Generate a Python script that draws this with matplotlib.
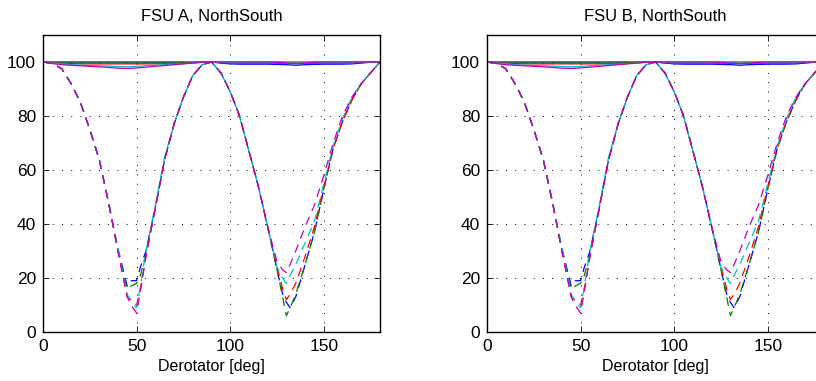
import matplotlib
matplotlib.use('Agg')
import matplotlib.pyplot as plt

plt.rcParams['font.family'] = ['Liberation Sans', 'DejaVu Sans']

# derotator angles (deg)
deg_solid = [0, 5, 10, 15, 20, 25, 30, 35, 40, 45, 50, 55, 60, 65, 70, 75, 80, 85, 90,
             95, 100, 105, 110, 115, 120, 125, 130, 135, 140, 145, 150, 155, 160, 165, 170, 175, 180]
deg_dash = [0, 5, 10, 15, 20, 25, 30, 35, 40, 45, 47, 50, 52, 55, 60, 65, 70, 75, 80, 85, 90,
            95, 100, 105, 110, 115, 120, 125, 128, 130, 132, 135, 140, 145, 150, 155, 160, 165, 170, 175, 180]

# solid curves (close to 100 %)
solid_b = [100, 100, 100, 100, 100, 100, 100, 100, 100, 100, 100, 100, 100, 100, 100, 100, 100, 100, 100,
           99.6, 99.3, 99.2, 99.2, 99.2, 99.2, 99.1, 99.0, 98.8, 99.0, 99.1, 99.2, 99.2, 99.2, 99.3, 99.6, 99.9, 100]
solid_g = [100, 99.7, 99.6, 99.6, 99.6, 99.6, 99.6, 99.6, 99.6, 99.6, 99.6, 99.6, 99.6, 99.6, 99.6, 99.7, 99.8, 99.9, 100,
           99.7, 99.5, 99.5, 99.5, 99.5, 99.5, 99.5, 99.5, 99.4, 99.5, 99.5, 99.5, 99.5, 99.5, 99.6, 99.8, 99.9, 100]
solid_r = [100, 99.7, 99.5, 99.4, 99.3, 99.3, 99.3, 99.3, 99.3, 99.3, 99.3, 99.3, 99.3, 99.3, 99.4, 99.5, 99.7, 99.9, 100,
           100, 100, 100, 100, 100, 100, 100, 100, 100, 100, 100, 100, 100, 100, 100, 100, 100, 100]
solid_c = [100, 99.6, 99.3, 99.0, 98.8, 98.7, 98.6, 98.5, 98.3, 98.2, 98.4, 98.6, 98.8, 99.0, 99.2, 99.4, 99.7, 99.9, 100,
           99.9, 99.8, 99.8, 99.8, 99.8, 99.8, 99.8, 99.7, 99.6, 99.7, 99.8, 99.8, 99.8, 99.8, 99.8, 99.9, 100, 100]
solid_m = [100, 99.4, 99.0, 98.8, 98.6, 98.4, 98.2, 98.0, 97.7, 97.6, 97.8, 98.1, 98.4, 98.7, 99.0, 99.3, 99.6, 99.9, 100,
           100, 100, 100, 100, 100, 100, 99.9, 99.6, 99.4, 99.6, 99.9, 100, 100, 100, 100, 100, 100, 100]

# dashed curves (deep modulation)
dash_b = [100, 99.5, 97.5, 92, 85, 75, 64, 48, 31, 17, 19, 19, 24, 30, 46, 64, 77, 87, 95, 99, 100,
          96, 89, 80, 67, 54, 39, 23, 14, 11, 9, 13, 25, 37, 53, 68, 78, 86, 92, 96, 100]
dash_g = [100, 99.5, 97.5, 92, 85, 75, 64, 48, 30, 16, 17, 18, 21, 29, 46, 64, 77, 87, 95, 99, 100,
          96, 89, 80, 67, 54, 39, 23, 13, 6, 9, 14, 25, 37, 53, 68, 78, 86, 92, 96, 100]
dash_r = [100, 99.5, 97.5, 92, 85, 75, 64, 48, 30, 13, 12, 10, 16, 28, 46, 64, 77, 87, 95, 99, 100,
          96, 89, 80, 67, 54, 39, 24, 16, 12, 14, 18, 28, 39, 54, 68, 78, 86, 92, 96, 100]
dash_c = [100, 99.5, 97.5, 92, 85, 75, 64, 48, 31, 14, 11, 9, 17, 30, 47, 65, 77, 87, 95, 99, 100,
          96, 89, 80, 67, 54, 39, 24, 20, 18, 21, 25, 33, 41, 55, 69, 79, 87, 92, 96, 100]
dash_m = [100, 99.5, 97.5, 92, 85, 75, 64, 48, 30, 13, 10, 7, 15, 28, 46, 64, 77, 87, 95, 99, 100,
          96, 89, 80, 67, 54, 39, 26, 23, 22, 25, 30, 39, 47, 58, 70, 80, 87, 92, 96, 100]

titles = ['FSU A, NorthSouth', 'FSU B, NorthSouth']
xticks = [0, 50, 100, 150]
yticks = [0, 20, 40, 60, 80, 100]

colors = [(0, 0, 1), (0, 0.5, 0), (1, 0, 0), (0, 0.75, 0.75), (0.75, 0, 0.75)]
solids = [solid_b, solid_g, solid_r, solid_c, solid_m]
dashes = [dash_b, dash_g, dash_r, dash_c, dash_m]

fig = plt.figure(figsize=(8.16, 3.81), dpi=100)
lefts = [43 / 816, 487 / 816]
for i in range(2):
    ax = fig.add_axes([lefts[i], 1 - 332 / 381, 337 / 816, 297 / 381])
    for c, s in zip(colors, solids):
        ax.plot(deg_solid, s, '-', color=c, lw=0.9)
    for c, d in zip(colors, dashes):
        ax.plot(deg_dash, d, '--', color=c, lw=0.9, dashes=(7, 5))
    ax.set_xlim(0, 180)
    ax.set_ylim(0, 110)
    ax.set_xticks(xticks)
    ax.set_yticks(yticks)
    ax.grid(True, color='k', linestyle=(0, (1, 8.5)), linewidth=0.7)
    ax.tick_params(direction='in', length=4, width=0.6, top=True, right=True, labelsize=12.5, pad=5)
    for sp in ax.spines.values():
        sp.set_linewidth(1.0)
    ax.set_title(titles[i], fontsize=12, pad=10)
    ax.set_xlabel('Derotator [deg]', fontsize=11.5, labelpad=4)

fig.savefig('out.png', dpi=100)
